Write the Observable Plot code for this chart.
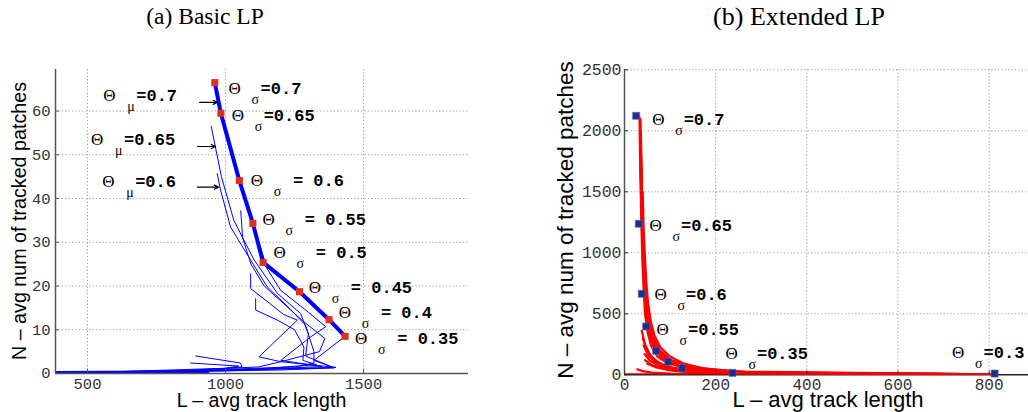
<!DOCTYPE html>
<html><head><meta charset="utf-8">
<script src="https://cdn.jsdelivr.net/npm/d3@7"></script>
<script src="https://cdn.jsdelivr.net/npm/@observablehq/plot@0.6"></script>
<style>
body{margin:0;background:#fff;}
#wrap{position:relative;width:1028px;height:412px;overflow:hidden;background:#fff;}
.title{position:absolute;font-family:"Liberation Serif","Times New Roman",serif;color:#000;white-space:nowrap;transform:translateX(-50%);line-height:1;}
.panel{position:absolute;top:0;}
</style></head><body>
<div id="wrap">
  <div class="title" id="ta" style="left:205px;top:5px;font-size:23.5px"></div>
  <div class="title" id="tb" style="left:799px;top:4px;font-size:26px"></div>
  <div class="panel" id="pa" style="left:0px"></div>
  <div class="panel" id="pb" style="left:520px"></div>
</div>
<script>
// ---------- data: (a) Basic LP ----------
const titleA = "(a) Basic LP";
const titleB = "(b) Extended LP";
const xLabel = "L \u2013 avg track length";
const yLabel = "N \u2013 avg num of tracked patches";

const basicXDomain = [384, 1880];
const basicYDomain = [0, 69.5];
const basicXTicks = [500, 1000, 1500];
const basicYTicks = [0, 10, 20, 30, 40, 50, 60];

const basicSigma = ["0.7", "0.65", "0.6", "0.55", "0.5", "0.45", "0.4", "0.35"];
const basicL = [961, 983, 1050, 1099, 1136, 1268, 1375, 1433];
const basicN = [66.5, 59.5, 44.1, 34.3, 25.4, 18.7, 12.3, 8.5];
const basicBase = [[380, 0.15], [935, 0.35]];

const basicThin = [
  [[948,56.5],[985,45],[1030,35],[1103,26],[1188,18.3],[1272,13.7],[1300,9],[1290,4],[1393,1.3],[1000,0.8],[600,0.3],[380,0.2]],
  [[970,45.7],[982,41.9],[1018,33.5],[1091,25.9],[1151,19.8],[1230,15],[1290,11],[1320,5],[1320,2.4],[1250,1.5],[800,0.5],[380,0.1]],
  [[1055,37.2],[1062,31],[1092,25],[1140,20],[1210,16],[1280,12],[1360,8],[1340,5],[1200,2.7],[1120,1.5],[700,0.3],[380,0.1]],
  [[1091,22.8],[1091,19.4],[1150,16.5],[1210,13.5],[1260,12.2],[1121,3.8],[1200,2.7],[1400,1.4],[1100,0.9],[380,0.2]],
  [[1109,17.1],[1109,14.5],[1188,12.2],[1250,10],[1284,6],[1280,3],[1330,2],[1100,1],[500,0.2],[380,0.1]],
  [[1121,30],[1150,24],[1200,19],[1300,14],[1363,10.7],[1309,8.4],[1200,3],[1350,1.6],[1000,0.6],[380,0.05]],
  [[892,4.0],[1054,2.4],[1060,1.5],[900,0.7],[380,0.2]],
  [[873,2.4],[1048,1.7],[1000,1.2],[600,0.4],[380,0.1]],
  [[1433,8.5],[1320,3],[1393,1.3],[1200,0.8],[380,0]]
];

const basicLabelText = ["=0.7", "=0.65", "\u00a0= 0.6", "\u00a0= 0.55", "\u00a0= 0.5", "\u00a0= 0.45", "\u00a0= 0.4", "\u00a0= 0.35"];
const basicLabelL = [1011, 1022, 1091, 1134, 1174, 1301, 1410, 1469];
const basicLabelN = [65.2, 59.0, 44.2, 35.3, 27.7, 19.7, 14.0, 8.1];

const muLabelText = ["=0.7", "=0.65", "=0.6"];
const muLabelL = [557, 513, 553];
const muLabelN = [63.6, 53.5, 43.9];
const muArrowFrom = [906, 898, 898];
const muArrowTo = [971, 964, 975];
const muArrowN = [62.0, 51.9, 42.6];

// ---------- data: (b) Extended LP ----------
const extXDomain = [0, 886.3];
const extYDomain = [0, 2500];
const extXTicks = [0, 200, 400, 600, 800];
const extYTicks = [0, 500, 1000, 1500, 2000, 2500];

const extSigma = ["0.7", "0.65", "0.6", "0.55", "0.5", "0.45", "0.4", "0.35", "0.3"];
const extL = [25.6, 31.4, 38, 47.6, 69.5, 96, 126.5, 237, 812];
const extN = [2123, 1238, 664, 396, 197, 107, 54, 16, 10];

const extCurves = [
  [[33,2110],[34,1800],[35.5,1500],[37,1240],[39,950],[42,700],[45,500],[50,360],[58,240],[72,150],[95,95],[135,55],[210,28],[350,12],[600,5],[812,3]],
  [[35,2095],[36,1800],[37.5,1500],[39,1240],[41,950],[44,700],[48,500],[54,360],[63,240],[78,155],[102,95],[142,55],[220,27],[380,11],[812,3]],
  [[34,2080],[35.5,1750],[37,1450],[39,1150],[42,850],[46,620],[51,440],[59,300],[72,200],[92,125],[125,72],[185,36],[290,16],[812,3]],
  [[36,2000],[37.5,1700],[39,1400],[41,1100],[44,820],[48,610],[54,430],[63,290],[78,190],[102,115],[145,62],[225,27],[812,3]],
  [[34,1950],[35.5,1650],[37.5,1300],[40,1000],[43,750],[47,530],[53,370],[62,250],[78,160],[105,95],[155,50],[250,20],[812,3]],
  [[36,1850],[37.5,1550],[39.5,1200],[42,900],[46,660],[51,470],[58,330],[69,230],[86,150],[115,95],[165,50],[270,20],[812,3]],
  [[37,1700],[39,1350],[41.5,1050],[45,800],[49,600],[55,420],[64,300],[78,200],[100,125],[135,75],[200,36],[320,14],[812,3]],
  [[40,1500],[42,1200],[45,950],[48,750],[52,580],[58,430],[66,320],[78,230],[98,155],[128,95],[175,52],[260,22],[812,3]],
  [[38,360],[45,250],[55,170],[70,110],[95,65],[130,38],[200,18],[350,8],[600,4],[812,2]],
  [[40,300],[48,210],[60,140],[78,95],[105,58],[150,32],[230,15],[400,6],[812,2]],
  [[42,240],[52,160],[66,110],[90,70],[125,42],[180,22],[300,9],[812,2]],
  [[44,170],[56,115],[75,75],[105,45],[150,26],[250,11],[812,2]],
  [[45,120],[60,80],[85,50],[120,30],[180,16],[350,6],[812,1]],
  [[50,90],[70,60],[100,36],[150,20],[300,7],[812,1]],
  [[28,45],[40,30],[60,18],[100,10],[200,5],[812,1]],
  [[0,3],[300,3],[812,3]]
];

const extLabelText = ["=0.7", "=0.65", "=0.6", "=0.55", "=0.35", "=0.3"];
const extLabelL = [60.7, 54.8, 65.8, 70.2, 221.5, 718.6];
const extLabelN = [2093, 1224, 656, 369, 172, 185];

// ---------- rendering ----------
const mono = "'Liberation Mono','Courier New',monospace";
const serif = "'Liberation Serif','Times New Roman',serif";
const sans = "'Liberation Sans',Arial,sans-serif";
const gridStyle = {stroke: "#9a9a9a", strokeOpacity: 1, strokeDasharray: "1.2,2.2", strokeWidth: 1};
const fmt = d => String(d);

const flat = (series) => series.flatMap((s, i) => s.map(([L, N]) => ({L, N, s: i})));

document.getElementById("ta").textContent = titleA;
document.getElementById("tb").textContent = titleB;

function labelMarks(text, Ls, Ns, sub, subDx, restDx) {
  return [
    Plot.text(text, {x: Ls, y: Ns, text: () => "\u0398", fontFamily: serif, fontSize: 17, textAnchor: "start", lineAnchor: "middle", fill: "#000"}),
    Plot.text(text, {x: Ls, y: Ns, text: () => sub, dx: subDx, dy: 11, fontFamily: serif, fontSize: 14, textAnchor: "start", lineAnchor: "middle", fill: "#000"}),
    Plot.text(text, {x: Ls, y: Ns, text: d => d, dx: restDx, fontFamily: mono, fontSize: 17, fontWeight: "bold", textAnchor: "start", lineAnchor: "middle", fill: "#000"})
  ];
}

const tickText = {tickSize: 0, label: null, tickFormat: fmt, fontFamily: mono, fill: "#333"};

const plotA = Plot.plot({
  width: 500, height: 412,
  marginLeft: 55, marginRight: 32, marginTop: 69, marginBottom: 39,
  x: {domain: basicXDomain},
  y: {domain: basicYDomain},
  style: {fontFamily: mono, fontSize: "16px", color: "#333", background: "transparent", overflow: "visible"},
  marks: [
    Plot.gridX(basicXTicks, gridStyle),
    Plot.gridY(basicYTicks.filter(d => d > 0), gridStyle),
    Plot.line(flat(basicThin), {x: "L", y: "N", z: "s", stroke: "#0000ff", strokeWidth: 1, clip: true}),
    Plot.line(basicBase, {x: d => d[0], y: d => d[1], stroke: "#0000ff", strokeWidth: 3.5, clip: true}),
    Plot.line(basicSigma, {x: basicL, y: basicN, stroke: "#0000ff", strokeWidth: 4}),
    Plot.dot(basicSigma, {x: basicL, y: basicN, symbol: "square", r: 4, fill: "#e0301c", stroke: "none"}),
    Plot.ruleX([basicXDomain[0]], {stroke: "#555", strokeWidth: 1.5}),
    Plot.ruleY([0], {stroke: "#555", strokeWidth: 1.5}),
    Plot.axisX(basicXTicks, {tickSize: -4, fill: "none", stroke: "#555", label: null, tickFormat: fmt}),
    Plot.axisX(basicXTicks, {...tickText, tickPadding: 4, fontSize: 15.5}),
    Plot.axisY(basicYTicks, {tickSize: -4, fill: "none", stroke: "#555", label: null, tickFormat: fmt}),
    Plot.axisY(basicYTicks, {...tickText, tickPadding: 5, fontSize: 15.5}),
    ...labelMarks(basicLabelText, basicLabelL, basicLabelN, "\u03c3", 23, 32),
    ...labelMarks(muLabelText, muLabelL, muLabelN, "\u03bc", 24, 33),
    Plot.arrow(muLabelText, {x1: muArrowFrom, x2: muArrowTo, y1: muArrowN, y2: muArrowN, stroke: "#000", strokeWidth: 1.2, headLength: 6, headAngle: 50})
  ]
});

const plotB = Plot.plot({
  width: 508, height: 412,
  marginLeft: 104, marginRight: 0, marginTop: 69.3, marginBottom: 37.7,
  x: {domain: extXDomain},
  y: {domain: extYDomain},
  style: {fontFamily: mono, fontSize: "16.5px", color: "#333", background: "transparent", overflow: "visible"},
  marks: [
    Plot.gridX(extXTicks.filter(d => d > 0), gridStyle),
    Plot.gridY(extYTicks.filter(d => d > 0), gridStyle),
    Plot.ruleX([extXDomain[0]], {stroke: "#555", strokeWidth: 1.5}),
    Plot.ruleY([0], {stroke: "#222", strokeWidth: 1.5}),
    Plot.line(flat(extCurves), {x: "L", y: "N", z: "s", stroke: "#ff0000", strokeWidth: 2.2, clip: true}),
    Plot.dot(extSigma, {x: extL, y: extN, symbol: "square", r: 4, fill: "#1f2e8a", stroke: "#5566bb", strokeWidth: 0.6}),
    Plot.axisX(extXTicks, {tickSize: -4, fill: "none", stroke: "#333", label: null, tickFormat: fmt}),
    Plot.axisX(extXTicks, {...tickText, tickPadding: 4, fontSize: 16}),
    Plot.axisY(extYTicks, {tickSize: -4, fill: "none", stroke: "#333", label: null, tickFormat: fmt}),
    Plot.axisY(extYTicks, {...tickText, tickPadding: 3, fontSize: 16.5}),
    ...labelMarks(extLabelText, extLabelL, extLabelN, "\u03c3", 23, 31.5)
  ]
});

function addLabels(svg, xl, yl) {
  const ns = "http://www.w3.org/2000/svg";
  const t1 = document.createElementNS(ns, "text");
  t1.setAttribute("x", xl.x); t1.setAttribute("y", xl.y);
  t1.setAttribute("text-anchor", "middle");
  t1.setAttribute("font-family", sans); t1.setAttribute("font-size", xl.size);
  t1.setAttribute("fill", "#000");
  t1.textContent = xLabel;
  svg.appendChild(t1);
  const t2 = document.createElementNS(ns, "text");
  t2.setAttribute("transform", `translate(${yl.x},${yl.y}) rotate(-90)`);
  t2.setAttribute("text-anchor", "middle");
  t2.setAttribute("font-family", sans); t2.setAttribute("font-size", yl.size);
  t2.setAttribute("fill", "#000");
  t2.textContent = yLabel;
  svg.appendChild(t2);
}
addLabels(plotA, {x: 261.5, y: 407, size: 19.5}, {x: 26, y: 221, size: 19.7});
addLabels(plotB, {x: 308, y: 406.5, size: 22}, {x: 53, y: 220, size: 22.5});

document.getElementById("pa").appendChild(plotA);
document.getElementById("pb").appendChild(plotB);
</script>
</body></html>
